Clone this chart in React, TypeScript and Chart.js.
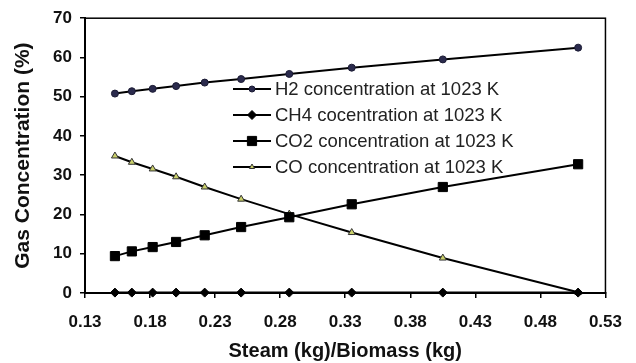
import React, { useEffect, useRef } from "react";
import { Chart, registerables } from "chart.js";

Chart.register(...registerables);

const ratios = [0.153, 0.166, 0.182, 0.2, 0.222, 0.25, 0.287, 0.335, 0.405, 0.509];
const h2 = [50.8, 51.4, 52.0, 52.7, 53.6, 54.5, 55.8, 57.4, 59.5, 62.5];
const ch4 = [0.1, 0.1, 0.1, 0.1, 0.1, 0.1, 0.1, 0.1, 0.1, 0.1];
const co2 = [9.4, 10.6, 11.7, 13.0, 14.7, 16.8, 19.3, 22.6, 27.0, 32.8];
const co = [34.9, 33.3, 31.6, 29.6, 27.0, 23.9, 20.1, 15.4, 8.9, 0.2];
const labels = [
  "H2 concentration at 1023 K",
  "CH4 cocentration at 1023 K",
  "CO2 concentration at 1023 K",
  "CO concentration at 1023 K",
];
const xTicks = [0.13, 0.18, 0.23, 0.28, 0.33, 0.38, 0.43, 0.48, 0.53];

const styles = [
  { pointStyle: "circle", radius: 3.5, bg: "#2b2b4d", border: "#1a1a33" },
  { pointStyle: "rectRot", radius: 4.5, bg: "#000000", border: "#000000" },
  { pointStyle: "rect", radius: 6.5, bg: "#000000", border: "#000000" },
  { pointStyle: "triangle", radius: 4, bg: "#c9cf6a", border: "#333333" },
];

function drawMarker(ctx: CanvasRenderingContext2D, style: string, x: number, y: number, r: number) {
  ctx.beginPath();
  if (style === "circle") {
    ctx.arc(x, y, r, 0, Math.PI * 2);
  } else if (style === "rectRot") {
    ctx.moveTo(x, y - r);
    ctx.lineTo(x + r, y);
    ctx.lineTo(x, y + r);
    ctx.lineTo(x - r, y);
    ctx.closePath();
  } else if (style === "rect") {
    const s = r * Math.SQRT1_2;
    ctx.rect(x - s, y - s, 2 * s, 2 * s);
  } else {
    ctx.moveTo(x, y - r);
    ctx.lineTo(x + r * 0.866, y + r * 0.5);
    ctx.lineTo(x - r * 0.866, y + r * 0.5);
    ctx.closePath();
  }
  ctx.fill();
  ctx.stroke();
}

const framePlugin = {
  id: "frameAndLegend",
  afterDraw(chart: any) {
    const { ctx, chartArea } = chart;
    ctx.save();
    ctx.strokeStyle = "#000";
    ctx.lineWidth = 1.5;
    ctx.strokeRect(chartArea.left, chartArea.top, chartArea.right - chartArea.left, chartArea.bottom - chartArea.top);
    const rows = [89, 115, 141, 167];
    ctx.font = "18.5px 'Liberation Sans', Arial, sans-serif";
    ctx.textBaseline = "middle";
    ctx.textAlign = "left";
    rows.forEach((y, i) => {
      const st = styles[i];
      ctx.strokeStyle = "#000";
      ctx.lineWidth = 2;
      ctx.beginPath();
      ctx.moveTo(233, y);
      ctx.lineTo(271, y);
      ctx.stroke();
      ctx.fillStyle = st.bg;
      ctx.strokeStyle = st.border;
      ctx.lineWidth = 1;
      const lr = st.pointStyle === "triangle" ? 3 : st.pointStyle === "circle" ? 3 : st.radius;
      drawMarker(ctx, st.pointStyle, 252, y, lr);
      ctx.fillStyle = "#222";
      ctx.fillText(labels[i], 275, y + 1);
    });
    ctx.restore();
  },
};

export default function App() {
  const ref = useRef<HTMLCanvasElement>(null);
  useEffect(() => {
    if (!ref.current) return;
    const series = [h2, ch4, co2, co];
    const chart = new Chart(ref.current, {
      type: "line",
      data: {
        datasets: series.map((vals, i) => ({
          label: labels[i],
          data: vals.map((v, j) => ({ x: ratios[j], y: v })),
          borderColor: "#000",
          borderWidth: 2,
          pointStyle: styles[i].pointStyle as any,
          pointRadius: styles[i].radius,
          pointBackgroundColor: styles[i].bg,
          pointBorderColor: styles[i].border,
          pointBorderWidth: 1,
          tension: 0,
          clip: false as any,
        })),
      },
      options: {
        responsive: false,
        animation: false,
        layout: { padding: { left: 0, right: 30, top: 18, bottom: 0 } },
        plugins: { legend: { display: false }, tooltip: { enabled: false } },
        scales: {
          x: {
            type: "linear",
            min: 0.13,
            max: 0.53,
            afterBuildTicks: (scale: any) => {
              scale.ticks = xTicks.map((v) => ({ value: v }));
            },
            afterFit: (scale: any) => {
              scale.height = 70;
            },
            ticks: {
              color: "#111",
              font: { family: "'Liberation Sans', Arial, sans-serif", size: 17, weight: "bold" },
              padding: 14,
              callback: (v: any) => Number(v).toFixed(2),
              maxRotation: 0,
              autoSkip: false,
            },
            grid: { drawOnChartArea: false, drawTicks: true, tickLength: 5, color: "#000", lineWidth: 1.5 },
            border: { display: true, color: "#000", width: 2 },
            title: {
              display: true,
              text: "Steam (kg)/Biomass (kg)",
              color: "#111",
              font: { family: "'Liberation Sans', Arial, sans-serif", size: 20, weight: "bold" },
              padding: { top: 0, bottom: 0 },
            },
          },
          y: {
            min: 0,
            max: 70,
            ticks: {
              stepSize: 10,
              color: "#111",
              font: { family: "'Liberation Sans', Arial, sans-serif", size: 17, weight: "bold" },
              padding: 8,
            },
            afterFit: (scale: any) => {
              scale.width = 85;
            },
            grid: { drawOnChartArea: false, drawTicks: true, tickLength: 5, color: "#000", lineWidth: 1.5 },
            border: { display: true, color: "#000", width: 2 },
            title: {
              display: true,
              text: "Gas Concentration (%)",
              color: "#111",
              font: { family: "'Liberation Sans', Arial, sans-serif", size: 21, weight: "bold" },
              padding: { top: 11, bottom: 0 },
            },
          },
        },
      },
      plugins: [framePlugin],
    });
    return () => chart.destroy();
  }, []);
  return (
    <div style={{ position: "fixed", left: 0, top: 0, width: 636, height: 363, background: "#fff" }}>
      <canvas ref={ref} width={636} height={363} style={{ width: 636, height: 363 }} />
    </div>
  );
}
